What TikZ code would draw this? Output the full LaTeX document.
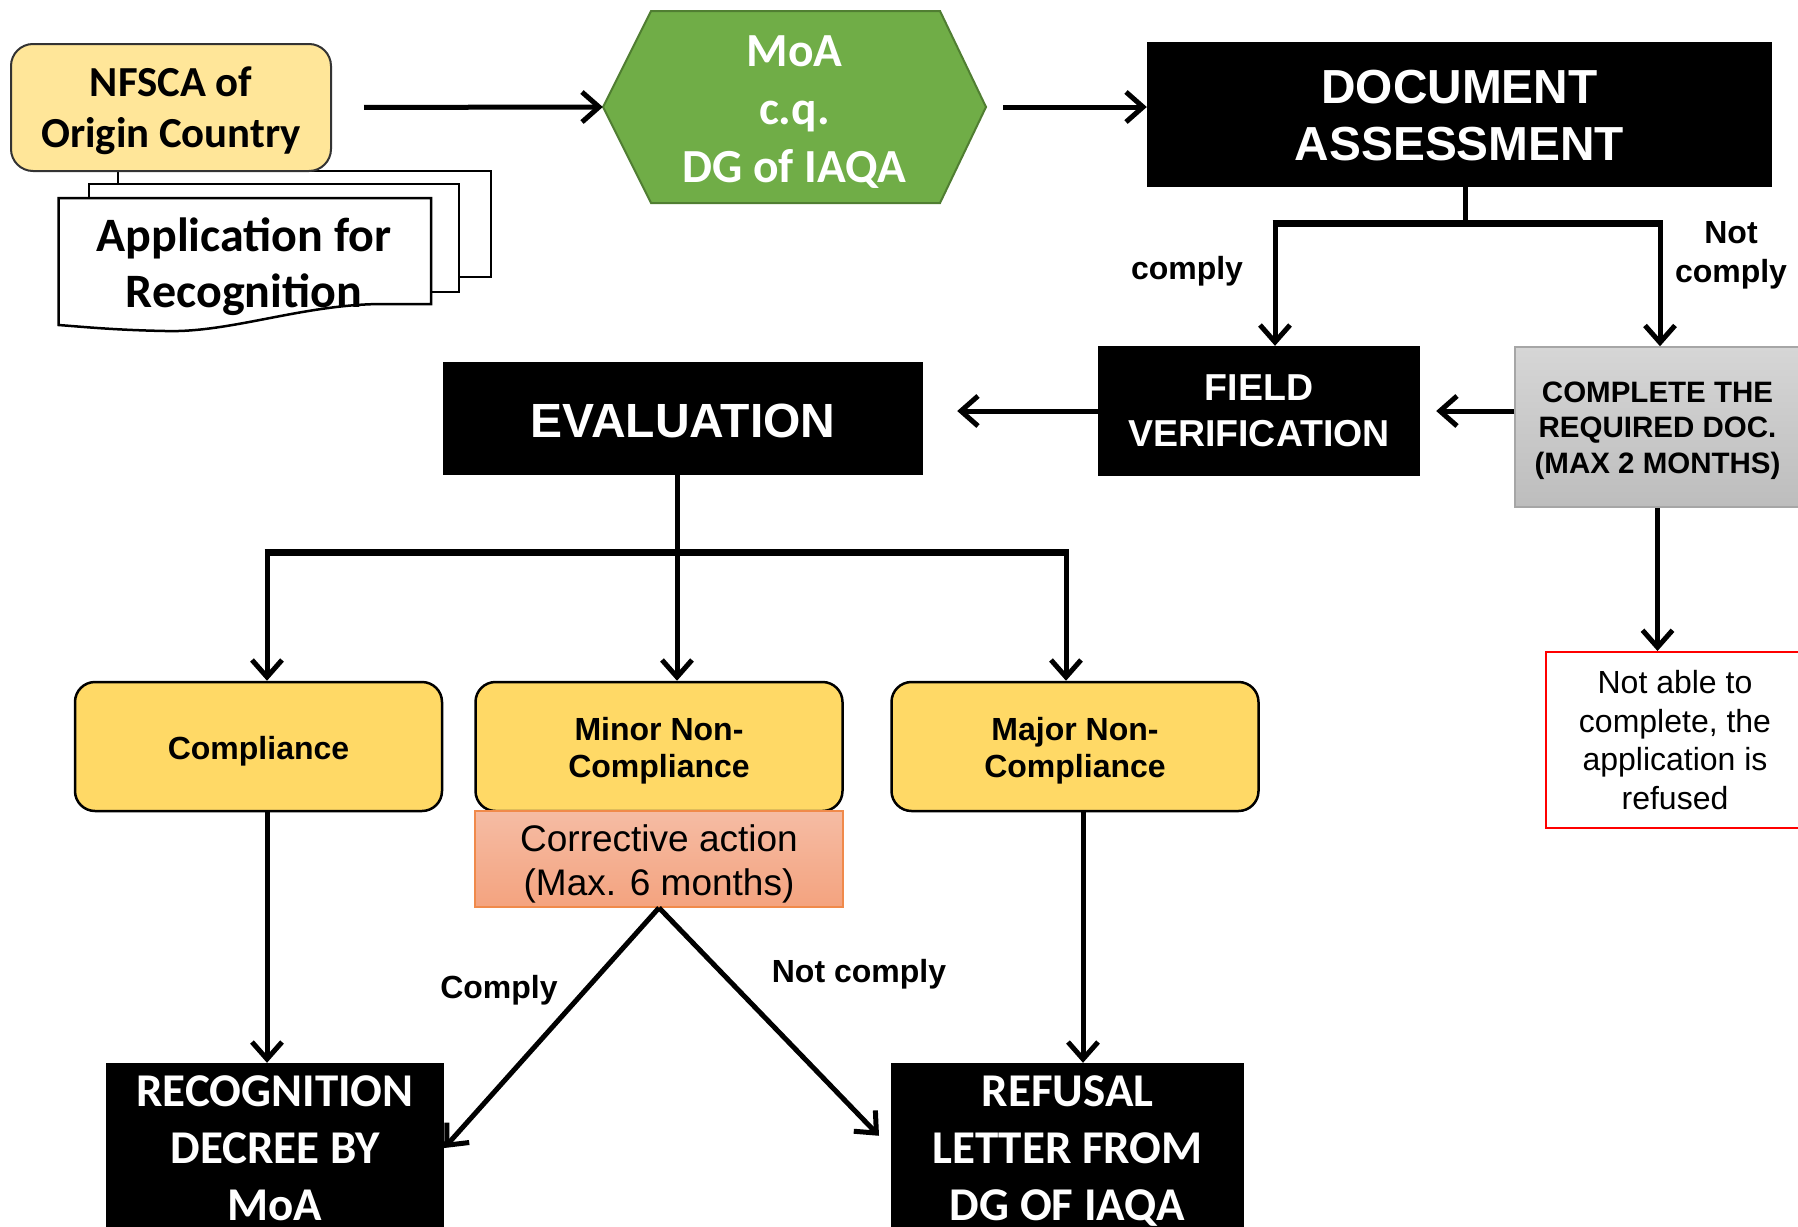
\documentclass[tikz,border=0pt]{standalone}
\usepackage{fontspec}
\setmainfont{Liberation Sans}
\newfontfamily\calfont{Carlito}
\usetikzlibrary{arrows.meta,calc}
\definecolor{nfy}{HTML}{FFE699}
\definecolor{yel}{HTML}{FFD966}
\definecolor{grn}{HTML}{70AD47}
\definecolor{grnd}{HTML}{507E32}
\definecolor{gtop}{HTML}{D6D6D6}
\definecolor{gbot}{HTML}{BDBDBD}
\definecolor{gbd}{HTML}{A6A6A6}
\definecolor{stop}{HTML}{F5BCA4}
\definecolor{sbot}{HTML}{F4A37F}
\definecolor{sbd}{HTML}{F08A4B}
\newcommand\fsz[2]{\fontsize{#1}{#2}\selectfont}
\begin{document}
\begin{tikzpicture}[x=1pt,y=-1pt,
 arr/.style={line width=5pt,-{Straight Barb[length=17pt,width=30pt,line width=5pt]}},
 ln/.style={line width=5pt},
 bar/.style={line width=7pt},
 blk/.style={fill=black,text=white,inner sep=0pt,align=center},
 ybox/.style={fill=yel,draw=black,line width=2.5pt,rounded corners=20pt,minimum width=367pt,minimum height=129pt,inner sep=0pt,align=center,font=\fsz{32}{37}\bfseries},
 lbl/.style={font=\fsz{32}{39}\bfseries,align=center,inner sep=0pt},
 page/.style={fill=white,draw=black,line width=2.5pt}
]
\useasboundingbox (0,0) rectangle (1798,1226);
\clip (0,0) rectangle (1798,1226);

% document stack
\draw[page] (118,171) rectangle (491,277);
\draw[page] (89,184) rectangle (459,292);
\draw[page] (58.5,198) -- (431,198) -- (431,304) -- (380,304) .. controls (300,305) and (230,333) .. (165,331) .. controls (115,330) and (85,327) .. (58.5,325) -- cycle;
\node[font=\calfont\fsz{48}{56}\bfseries,align=center,inner sep=0pt] (app) at (244,266.5) {Application for\\Recognition};

\node[fill=nfy,draw=black!80,line width=2pt,rounded corners=22pt,minimum width=320pt,minimum height=127pt,inner sep=0pt,align=center,font=\calfont\fsz{42.8}{51}\bfseries] (nfsca) at (171,107.5) {};
\node[inner sep=0pt,align=center,font=\calfont\fsz{42.8}{51}\bfseries] (nfscat) at (171,111) {NFSCA of\\Origin Country};

% MoA hexagon
\draw[fill=grn,draw=grnd,line width=2pt] (603,107) -- (651,11) -- (940,11) -- (986,107) -- (940,203) -- (651,203) -- cycle;
\node[minimum width=383pt,minimum height=192pt,inner sep=0pt] (moa) at (794.5,107) {};
\node[inner sep=0pt,text=white,align=center,font=\calfont\fsz{47.5}{58}\bfseries] (moat) at (794.5,112) {MoA\\c.q.\\DG of IAQA};

\node[blk,minimum width=625pt,minimum height=145pt] (doc) at (1459.5,114.5) {};
\node[inner sep=0pt,text=white,align=center,font=\fsz{47.8}{57}\bfseries] (doct) at (1459.5,116) {DOCUMENT\\ASSESSMENT};

\draw[arr,shorten <=32pt] (nfsca.east) -- (moa.west);
\draw[arr,shorten <=17pt] (moa.east) -- (moa.east -| doc.west);

\node[blk,minimum width=322pt,minimum height=130pt,font=\fsz{37.5}{46}\bfseries] (field) at (1259,411) {FIELD\\VERIFICATION};
\node[draw=gbd,line width=1.5pt,top color=gtop,bottom color=gbot,minimum width=285pt,minimum height=160pt,inner sep=0pt] (comp) at (1657.5,427) {};
\node[inner sep=0pt,align=center,font=\fsz{29.5}{35.5}\bfseries] (compt) at (1657.5,430.5) {COMPLETE THE\\REQUIRED DOC.\\(MAX 2 MONTHS)};

% branch under document assessment
\coordinate (dl) at (1275,223);
\coordinate (dr) at (1660,223);
\draw[ln] ([xshift=6pt]doc.south) -- ([xshift=6pt]doc.south |- dl);
\draw[bar] ([xshift=-2.5pt]dl) -- ([xshift=2.5pt]dr);
\draw[arr] ([yshift=3pt]dl) -- (dl |- field.north);
\draw[arr] ([yshift=3pt]dr) -- (dr |- comp.north);
\node[lbl] (l1) at (1187,271.5) {comply};
\node[lbl] (l2) at (1731,255.5) {Not\\comply};

\draw[arr,shorten >=16pt] (field.east -| comp.west) -- (field.east);

\node[blk,minimum width=480pt,minimum height=113pt] (eval) at (683,418.5) {};
\node[inner sep=0pt,text=white,font=\fsz{48}{55}\bfseries] (evalt) at (683,421) {EVALUATION};
\draw[arr,shorten >=34pt] (field.west) -- (field.west -| eval.east);

% branch under evaluation
\coordinate (e1) at (267,552);
\coordinate (e2) at (677,552);
\coordinate (e3) at (1066,552);
\draw[ln] (e2 |- eval.south) -- (e2);
\draw[bar] ([xshift=-2.5pt]e1) -- ([xshift=2.5pt]e3);

\node[ybox] (compl) at (258.5,746.5) {};
\node[ybox] (minor) at (659,746.5) {};
\node[ybox] (major) at (1075,746.5) {};
\node[inner sep=0pt,align=center,font=\fsz{32}{37}\bfseries] (complt) at (258.5,751) {Compliance};
\node[inner sep=0pt,align=center,font=\fsz{32}{37}\bfseries] (minort) at (659,751) {Minor Non-\\Compliance};
\node[inner sep=0pt,align=center,font=\fsz{32}{37}\bfseries] (majort) at (1075,751) {Major Non-\\Compliance};

\draw[arr] ([yshift=3pt]e1) -- (e1 |- compl.north);
\draw[arr] ([yshift=3pt]e2) -- (e2 |- minor.north);
\draw[arr] ([yshift=3pt]e3) -- (e3 |- major.north);

\node[draw=sbd,line width=1.5pt,top color=stop,bottom color=sbot,minimum width=368pt,minimum height=96pt,inner sep=0pt] (corr) at (659,859) {};
\node[inner sep=0pt,align=center,font=\fsz{37}{44}] (corrt) at (659,863.5) {Corrective action\\(Max. 6 months)};

\node[blk,minimum width=338pt,minimum height=170pt] (rec) at (275,1148) {};
\node[blk,minimum width=353pt,minimum height=170pt] (ref) at (1067.5,1148) {};
\node[inner sep=0pt,text=white,align=center,font=\calfont\fsz{47}{57}\bfseries] (rect) at (275,1148) {RECOGNITION\\DECREE BY\\MoA};
\node[inner sep=0pt,text=white,align=center,font=\calfont\fsz{47}{57}\bfseries] (reft) at (1067.5,1151.5) {REFUSAL\\LETTER FROM\\DG OF IAQA};

\coordinate (m1) at (1083,0);
\draw[arr] (compl.south -| e1) -- (e1 |- rec.north);
\draw[arr] (major.south -| m1) -- (m1 |- ref.north);

\draw[arr] (corr.south) -- (rec.east);
\draw[arr,shorten >=17pt] (corr.south) -- (ref.west);
\node[lbl] (lc) at (499,990.5) {Comply};
\node[lbl] (lnc) at (859,974.5) {Not comply};

\node[draw=red,line width=2pt,fill=white,minimum width=258pt,minimum height=176pt,inner sep=0pt,align=center,font=\fsz{32}{38.5}] (na) at (1675,740) {Not able to\\complete, the\\application is\\refused};
\draw[arr] (comp.south) -- (comp.south |- na.north);
\end{tikzpicture}
\end{document}
